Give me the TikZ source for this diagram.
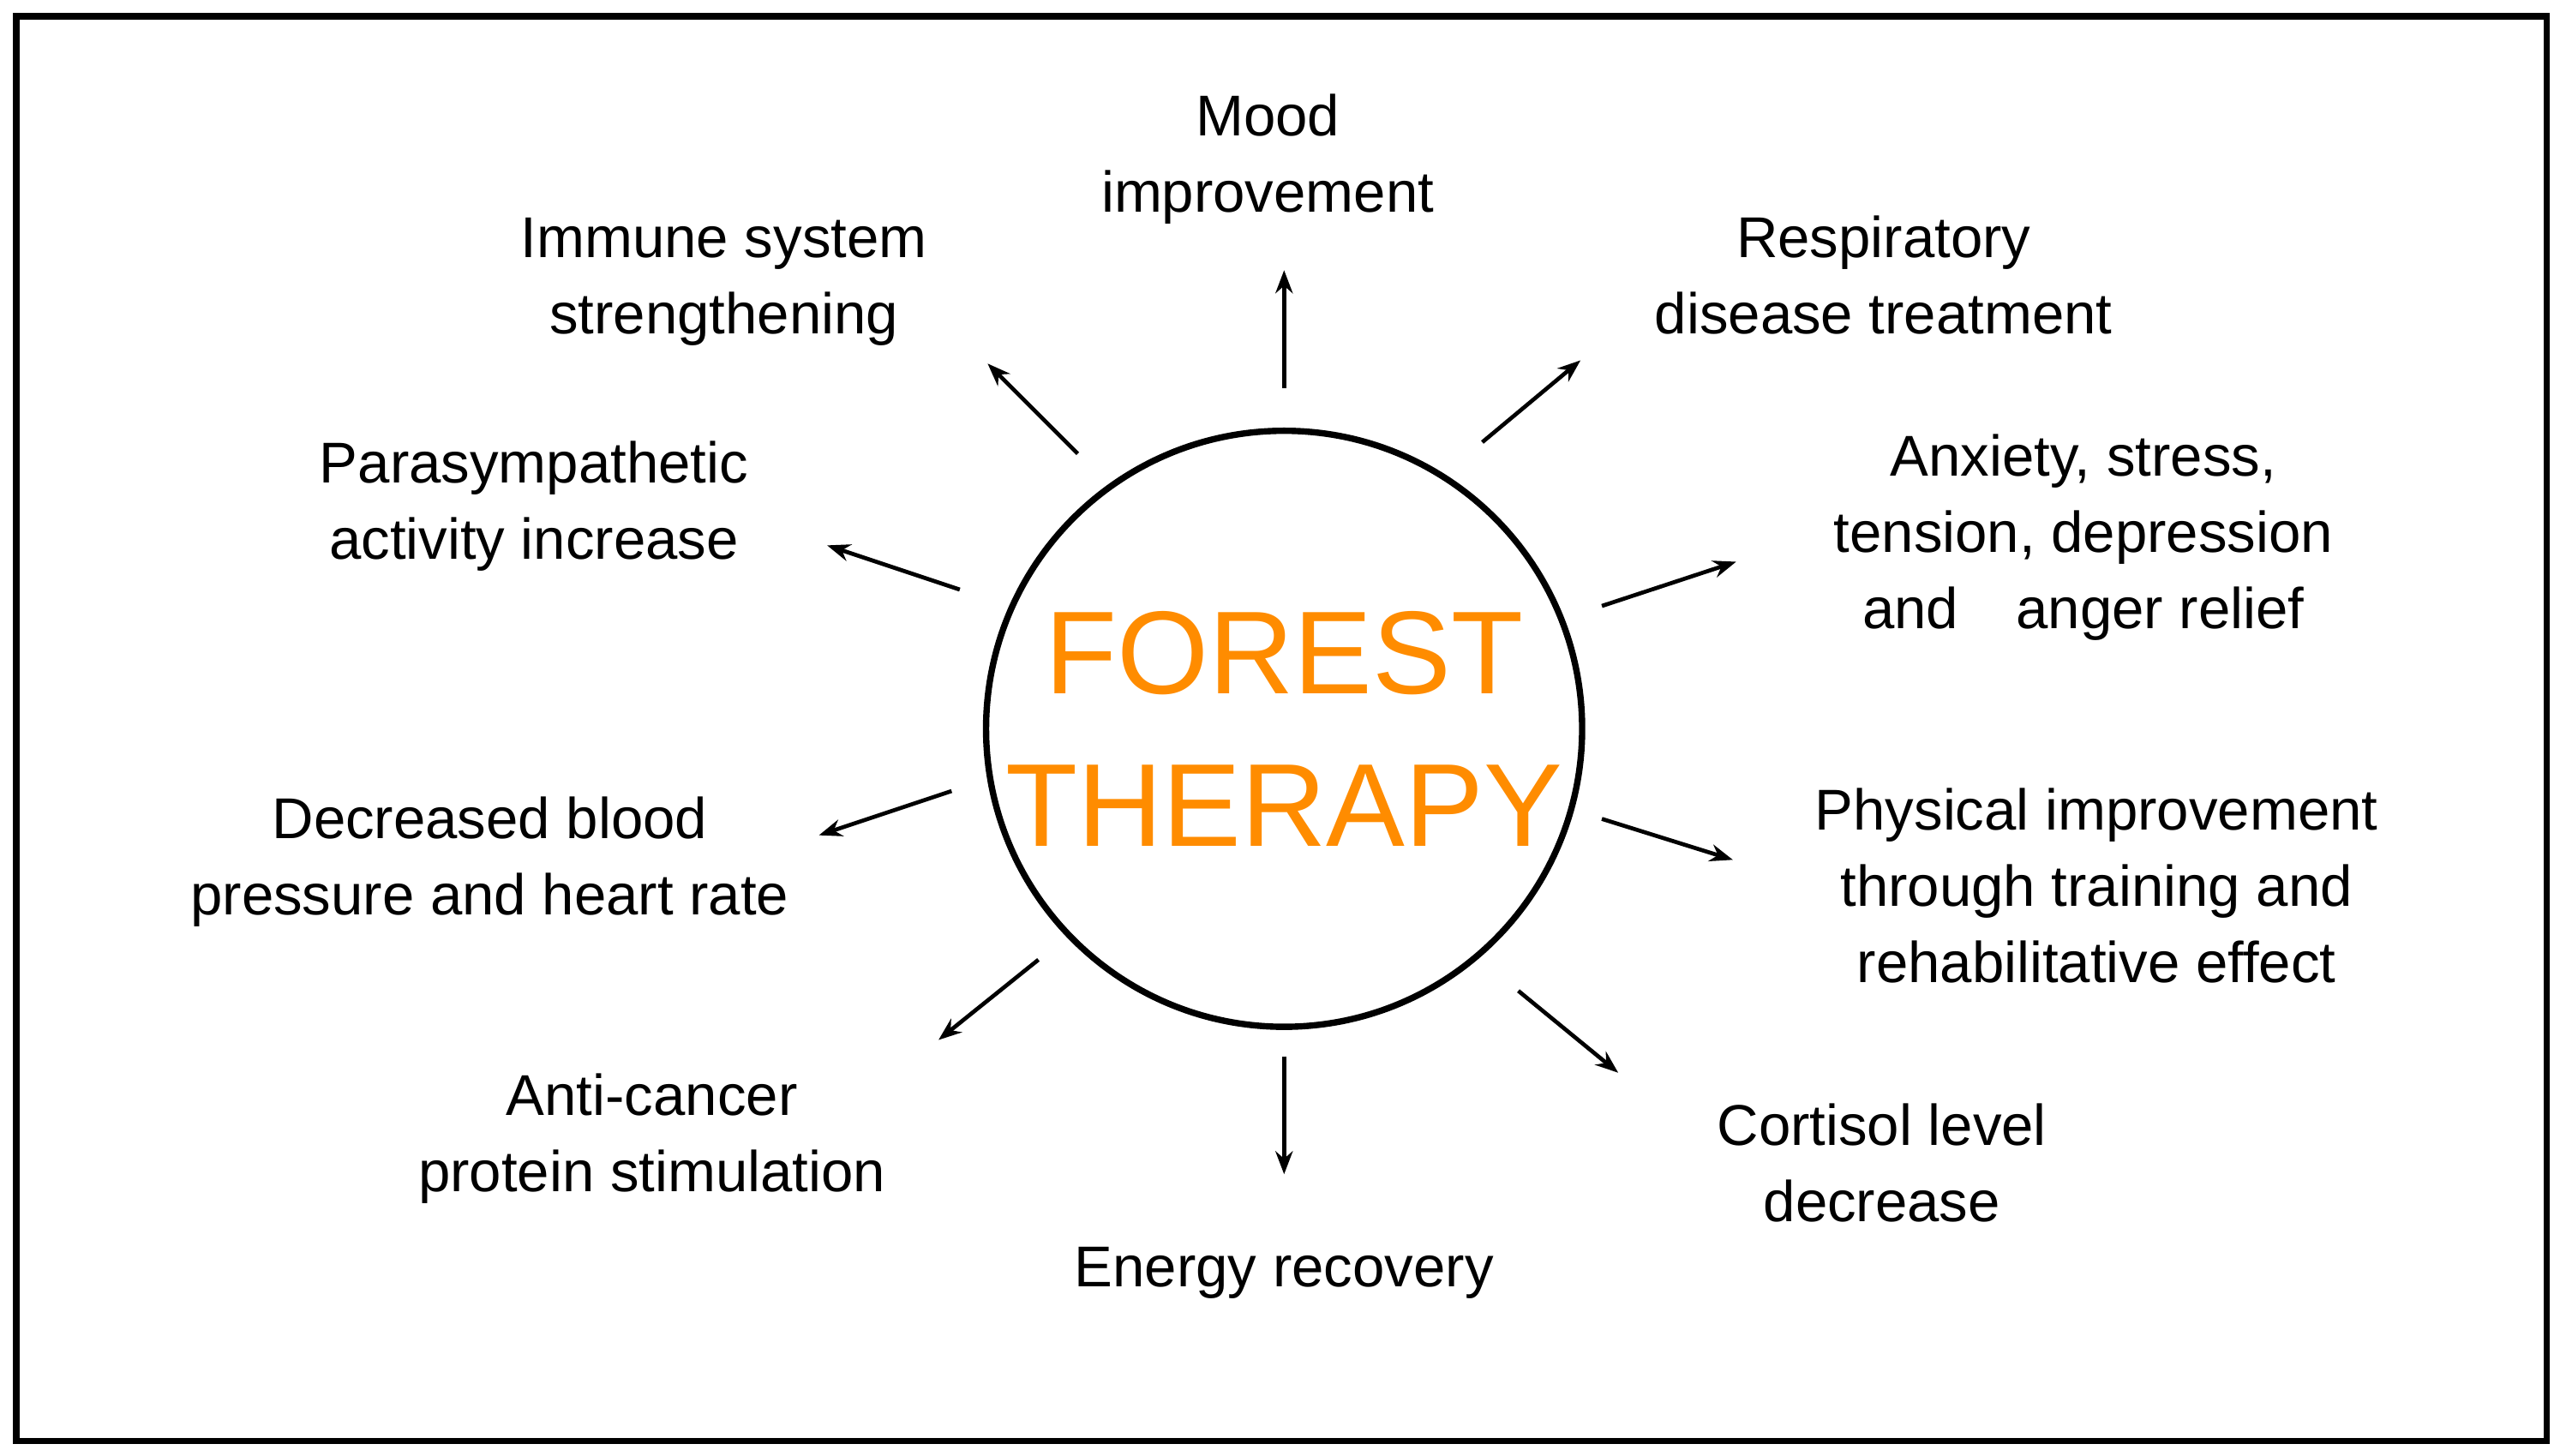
\documentclass[tikz,border=0pt]{standalone}
\usepackage{fontspec}
\setmainfont{Liberation Sans}
\usetikzlibrary{arrows.meta}
\begin{document}
\begin{tikzpicture}[x=0.02cm,y=-0.02cm,
  lbl/.style={align=center,font=\fontsize{20}{26.5}\selectfont},
  arr/.style={-{Stealth[length=8pt,width=6pt]},line width=1.4pt}]
\useasboundingbox (0,0) rectangle (1563,889);
\draw[line width=2.2pt] (10,10) rectangle (1555,880);
\node[circle,draw,line width=2.2pt,minimum size=364\pgflinewidth*0+7.28cm,inner sep=0] (c) at (784,445) {};
\node[align=center,text=orange!90!yellow,font=\fontsize{41}{53}\selectfont] (t) at (784,445) {FOREST\\THERAPY};
\node[lbl] (l1) at (774,97) {Mood\\improvement};
\node[lbl] (l2) at (442,172) {Immune system\\strengthening};
\node[lbl] (l3) at (1150,168) {Respiratory\\disease treatment};
\node[lbl] (l4) at (326,309) {Parasympathetic\\activity increase};
\node[lbl] (l5) at (1272,328) {Anxiety, stress,\\tension, depression\\and\quad anger relief};
\node[lbl] (l6) at (299,526) {Decreased blood\\pressure and heart rate};
\node[lbl] (l7) at (1280,541) {Physical improvement\\through training and\\rehabilitative effect};
\node[lbl] (l8) at (398,695) {Anti-cancer\\protein stimulation};
\node[lbl] (l9) at (1149,710) {Cortisol level\\decrease};
\node[lbl] (l10) at (784,777) {Energy recovery};
\coordinate (a1) at (784,237); \coordinate (b1) at (784,165);
\coordinate (a2) at (658,277); \coordinate (b2) at (603,222);
\coordinate (a3) at (905,270); \coordinate (b3) at (965,220);
\coordinate (a4) at (586,360); \coordinate (b4) at (505,333);
\coordinate (a5) at (978,370); \coordinate (b5) at (1060,343);
\coordinate (a6) at (581,483); \coordinate (b6) at (500,510);
\coordinate (a7) at (978,500); \coordinate (b7) at (1058,525);
\coordinate (a8) at (634,586); \coordinate (b8) at (573,635);
\coordinate (a9) at (927,605); \coordinate (b9) at (988,655);
\coordinate (a10) at (784,645); \coordinate (b10) at (784,717);
\foreach \i in {1,...,10} {\draw[arr] (a\i) -- (b\i);}
\end{tikzpicture}
\end{document}
